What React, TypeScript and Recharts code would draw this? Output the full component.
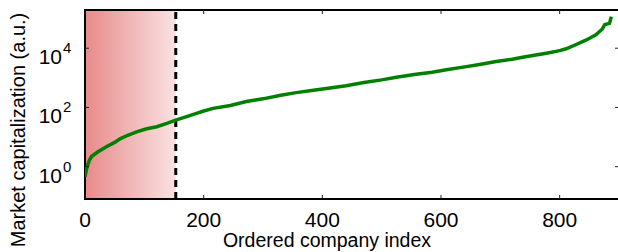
import {
  Label,
  Line,
  LineChart,
  ReferenceArea,
  ReferenceLine,
  XAxis,
  YAxis,
} from "recharts";

// company index (sorted by market cap)
const companyIndex = [
  0, 3, 7, 11, 20, 36, 50, 59, 72, 87, 104, 121, 138, 154, 170, 188, 200, 216,
  245, 272, 300, 330, 356, 385, 410, 440, 470, 500, 525, 555, 585, 609, 640,
  665, 693, 720, 740, 760, 780, 800, 811, 825, 845, 861, 872, 876, 884, 887,
];
// market capitalization (a.u.)
const marketCap = [
  0.46, 0.9, 1.6, 2.2, 3.0, 4.7, 6.6, 8.7, 11.5, 15, 19, 22.4, 29, 38, 48, 63,
  76, 93, 117, 158, 195, 257, 316, 380, 447, 537, 692, 851, 1047, 1288, 1549,
  1862, 2344, 2818, 3548, 4266, 5012, 5888, 6918, 8300, 9550, 12600, 19000,
  28200, 44700, 63000, 69000, 117000,
];

const xTicks = [0, 200, 400, 600, 800];
const yTicks = [1, 100, 10000];
const yExponents = ["0", "2", "4"];
const cutoffIndex = 153;

const data = companyIndex.map((idx, i) => ({ idx, cap: marketCap[i] }));

const PLOT = { left: 85, top: 10, right: 619, bottom: 199 };
const FONT = "'Liberation Sans', Arial, sans-serif";

// tick label + ticks pointing inwards on bottom and top edges
const XTick = (props: any) => {
  const { x, payload } = props;
  return (
    <g>
      <line x1={x} x2={x} y1={PLOT.bottom} y2={PLOT.bottom - 4} stroke="#222" />
      <line x1={x} x2={x} y1={PLOT.top} y2={PLOT.top + 4} stroke="#222" />
      <text x={x} y={227} textAnchor="middle" fontSize={21} fontFamily={FONT} fill="#000">
        {payload.value}
      </text>
    </g>
  );
};

// "10^n" labels + inward ticks on left and right edges
const YTick = (props: any) => {
  const { y, payload } = props;
  const exp = yExponents[yTicks.indexOf(payload.value)];
  return (
    <g>
      <line x1={PLOT.left} x2={PLOT.left + 4} y1={y} y2={y} stroke="#222" />
      <line x1={PLOT.right - 4} x2={PLOT.right} y1={y} y2={y} stroke="#222" />
      <text x={62} y={y + 16} textAnchor="end" fontSize={21} fontFamily={FONT} fill="#000">
        10
      </text>
      <text x={63} y={y + 5} textAnchor="start" fontSize={15} fontFamily={FONT} fill="#000">
        {exp}
      </text>
    </g>
  );
};

const App = () => {
  return (
    <div
      style={{
        position: "absolute",
        left: 0,
        top: 0,
        width: 618,
        height: 252,
        overflow: "hidden",
        background: "#fff",
      }}
    >
      <LineChart
        width={620}
        height={252}
        data={data}
        margin={{ top: 10, right: 1, bottom: 0, left: 0 }}
      >
        <defs>
          <linearGradient id="redFade" x1="0" y1="0" x2="1" y2="0">
            <stop offset="0%" stopColor="#e88a8a" />
            <stop offset="100%" stopColor="#f9e2e2" />
          </linearGradient>
        </defs>
        <XAxis
          dataKey="idx"
          type="number"
          domain={[0, 900]}
          ticks={xTicks}
          tick={XTick}
          tickLine={false}
          axisLine={false}
          height={53}
          allowDataOverflow
        >
          <Label
            content={() => (
              <text x={327} y={247} textAnchor="middle" fontSize={19.5} fontFamily={FONT} fill="#000">
                Ordered company index
              </text>
            )}
          />
        </XAxis>
        <YAxis
          dataKey="cap"
          type="number"
          scale="log"
          domain={[0.081, 195000]}
          ticks={yTicks}
          tick={YTick}
          tickLine={false}
          axisLine={false}
          width={85}
          allowDataOverflow
        >
          <Label
            content={() => (
              <text
                x={25}
                y={130}
                transform="rotate(-90 25 130)"
                textAnchor="middle"
                fontSize={20}
                fontFamily={FONT}
                fill="#000"
              >
                Market capitalization (a.u.)
              </text>
            )}
          />
        </YAxis>
        <ReferenceArea x1={0} x2={cutoffIndex} fill="url(#redFade)" fillOpacity={1} stroke="none" />
        <ReferenceLine
          x={cutoffIndex}
          stroke="#000"
          strokeWidth={3}
          strokeDasharray="7 5"
        />
        <Line
          dataKey="cap"
          type="linear"
          stroke="#008000"
          strokeWidth={3.5}
          dot={false}
          isAnimationActive={false}
        />
        <ReferenceArea x1={0} x2={900} fill="none" stroke="#000" strokeWidth={2} />
      </LineChart>
    </div>
  );
};

export default App;
